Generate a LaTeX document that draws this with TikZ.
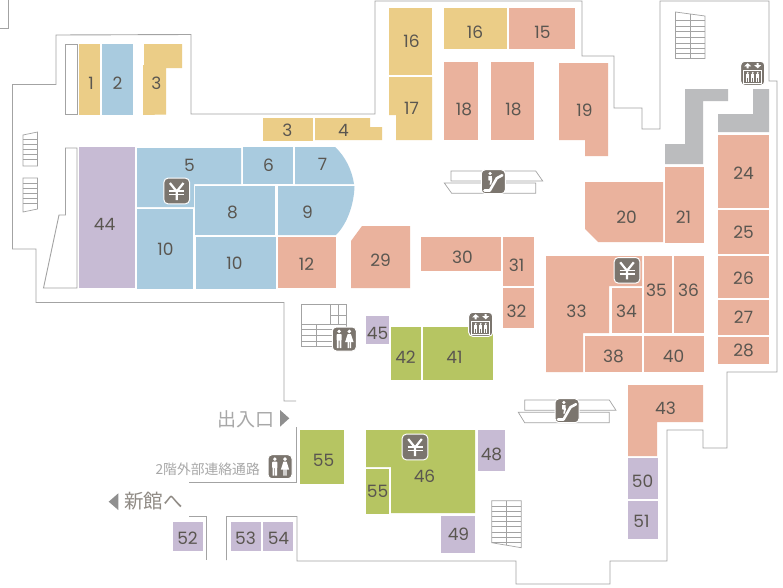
\documentclass[tikz,border=0pt]{standalone}
\usepackage{fontspec}
\setmainfont{Poppins}
\newfontfamily\cjkf{Noto Sans CJK JP}
\definecolor{cy}{HTML}{EBCD87}
\definecolor{cb}{HTML}{A9CBDF}
\definecolor{cp}{HTML}{EAB29D}
\definecolor{cv}{HTML}{C7BBD4}
\definecolor{cg}{HTML}{B6C562}
\definecolor{cw}{HTML}{BBBCBE}
\definecolor{ctxt}{HTML}{5A5650}
\definecolor{wall}{HTML}{A3A3A3}
\definecolor{iconc}{HTML}{7B756E}
\definecolor{lab}{HTML}{A8A8A8}
\definecolor{tri}{HTML}{8F8F8F}
\tikzset{
 ry/.style={fill=cy}, rb/.style={fill=cb}, rp/.style={fill=cp}, rv/.style={fill=cv}, rg/.style={fill=cg}, rw/.style={fill=cw},
 wallline/.style={draw=wall,line width=0.9pt,line join=miter},
 thin line/.style={draw=wall,line width=0.7pt},
 num/.style={text=ctxt,font=\fontsize{17}{17}\selectfont,inner sep=0pt,xshift=0.5pt,yshift=-0.6pt},
 cjklab/.style={text=lab,inner sep=0pt},
 iconbox/.style={fill=iconc,draw=white,line width=1pt,rounded corners=4pt},
 manicon/.pic={
  \fill[white] (0,-7.6) circle (1.9);
  \fill[white,rounded corners=0.8] (-2.6,-5) rectangle (2.6,1.5);
  \fill[white] (-2.2,1) rectangle (-0.4,9) (0.4,1) rectangle (2.2,9);
 },
 womanicon/.pic={
  \fill[white] (0,-7.6) circle (1.9);
  \fill[white] (-1.6,-5) -- (1.6,-5) -- (4.2,3) -- (-4.2,3) -- cycle;
  \fill[white] (-1.7,2.5) rectangle (-0.4,9) (0.4,2.5) rectangle (1.7,9);
 },
 wcicon/.pic={
  \path[iconbox] (-12,-12) rectangle (12,12);
  \pic at (-5.2,0) {manicon};
  \pic at (5,0) {womanicon};
 },
 yenicon/.pic={
  \path[iconbox] (-12.8,-12.8) rectangle (12.8,12.8);
  \draw[white,line width=2.2pt] (-6.8,-8) -- (0,0.5) -- (6.8,-8) (0,0.5) -- (0,9);
  \draw[white,line width=1.4pt] (-7.5,0) -- (7.5,0) (-7.5,3.6) -- (7.5,3.6);
 },
 elevicon/.pic={
  \path[iconbox] (-12,-12) rectangle (12,12);
  \fill[white] (-6,-5) -- (-6,-7) -- (-8.5,-7) -- (-5,-10.2) -- (-1.5,-7) -- (-4,-7) -- (-4,-5) -- cycle;
  \fill[white] (4,-10.2) -- (4,-8.2) -- (1.5,-8.2) -- (5,-5) -- (8.5,-8.2) -- (6,-8.2) -- (6,-10.2) -- cycle;
  \draw[white,line width=1pt] (-8.8,-3.2) rectangle (8.8,9.8);
  \foreach \px in {-5,0,5}{
   \fill[white] (\px,-0.4) circle (1.1);
   \fill[white] (\px-1.5,1) rectangle (\px+1.5,8.3);
   \draw[iconc,line width=0.5pt] (\px,4.5) -- (\px,8.3);
  }
 },
 esciconb/.pic={
  \path[iconbox] (-12,-12) rectangle (12,12);
  \fill[white] (-3.2,-8.2) circle (1.7);
  \fill[white] (-5,-5.5) -- (-1.4,-5.5) -- (-1.2,-1) -- (-2.2,3) -- (-3.8,3) -- (-3,-1) -- (-5,-1.5) -- cycle;
  \draw[white,line width=2.6pt,line join=round,line cap=round] (-9,8.8) -- (-3.5,8.8) -- (3.5,-3.5) -- (9,-6.5);
 }
}
\begin{document}
\begin{tikzpicture}[x=1pt,y=-1pt]
\useasboundingbox (0,0) rectangle (783,587);
\fill[white] (0,0) rectangle (783,587);
% outer walls
\draw[wallline] (0,28) -- (8,28) -- (8,0);
\draw[wallline] (226.5,560) -- (226.5,516.5) -- (297,516.5) -- (297,561) -- (516,561) -- (516,584) -- (610,584) -- (610,561) -- (667,561) -- (667,430) -- (703,430) -- (703,448) -- (727,448) -- (727,372) -- (777,372) -- (777,81) -- (769,81) -- (769,1) -- (660,1) -- (660,129) -- (642,129) -- (642,108) -- (614,108) -- (614,56) -- (582,56) -- (582,1) -- (375,1) -- (375,114) -- (191,114) -- (191,34.5) -- (56,35) -- (56,84.5) -- (12.5,84.5) -- (12.5,249) -- (36,249) -- (36,302.5) -- (284,302.5) -- (284,401) -- (296,401);
\draw[wallline] (189,516.5) -- (206.5,516.5) -- (206.5,560);
\draw[wallline] (189,482.5) -- (296.5,482.5) -- (296.5,427);
\draw[wallline] (65.5,44) rectangle (77,114.5);
\draw[wallline] (65.5,148) -- (77,148) -- (77,288) -- (43.5,288) -- (59,215) -- (65.5,215) -- cycle;
% stairs
\draw[thin line] (23,135) -- (37.5,132) -- (37.5,166) -- (23,166) -- cycle;
\foreach \yy in {139,144,149,154,159}{\draw[thin line] (23,\yy) -- (37.5,\yy);}
\draw[thin line] (23,178) -- (37.5,178) -- (37.5,209) -- (23,212) -- cycle;
\foreach \yy in {183,188,193,198,203}{\draw[thin line] (23,\yy) -- (37.5,\yy);}
\draw[thin line] (675.5,12) -- (705,16) -- (705,58.5) -- (675.5,58.5) -- cycle;
\draw[thin line] (690.7,14) -- (690.7,58.5);
\foreach \yy in {20,26,31,37,43,48,53}{\draw[thin line] (675.5,\yy) -- (705,\yy);}
\draw[thin line] (491.7,500.7) -- (521.3,500.7) -- (521.3,547.7) -- (491.7,542.7) -- cycle;
\draw[thin line] (506.7,500.7) -- (506.7,545);
\foreach \yy in {506,511,516,521,526,532,537,542}{\draw[thin line] (491.7,\yy) -- (521.3,\yy);}
% WC block
\draw[thin line] (301.7,304) rectangle (346.7,346.7);
\draw[thin line] (301.7,324.3) -- (346.7,324.3) (330.7,304) -- (330.7,324.3) (338.7,304) -- (338.7,324.3) (330.7,315) -- (346.7,315);
\draw[thin line] (316.7,324.3) -- (316.7,346.7) (301.7,329.3) -- (332,329.3) (301.7,335.7) -- (332,335.7) (301.7,341) -- (332,341);
% escalators
\draw[thin line] (451,171) -- (535.7,171) -- (542.7,181) -- (451,181) -- cycle;
\draw[thin line] (444.3,183) -- (535.7,183) -- (535.7,193.3) -- (451.7,193.3) -- cycle;
\draw[thin line] (524.7,400) -- (609.3,400) -- (616,410.3) -- (524.7,410.3) -- cycle;
\draw[thin line] (518.3,412.3) -- (609.3,412.3) -- (609.3,422.7) -- (524.7,422.7) -- cycle;
% rooms
\fill[ry] (79,44) rectangle (100,115);
\fill[rb] (102,44) rectangle (133,115);
\fill[ry] (144,44) -- (182,44) -- (182,68) -- (166,68) -- (166,114.5) -- (143,115) -- (143,65) -- (144,65) -- cycle;
\fill[ry] (263,118) rectangle (313,141);
\fill[ry] (315,118) -- (370,118) -- (370,127) -- (382,127) -- (382,140) -- (315,140) -- cycle;
\fill[rv] (79,147) rectangle (135,288);
\fill[rb] (137,148) -- (241,148) -- (241,184) -- (194,184) -- (194,207) -- (137,207) -- cycle;
\fill[rb] (243,147) rectangle (293,184);
\fill[rb] (295,147) -- (335,147) .. controls (345,156) and (352,170) .. (354,184) -- (295,184) -- cycle;
\fill[rb] (195,186) rectangle (275,235);
\fill[rb] (278,186) -- (354.5,186) .. controls (354,205) and (347,224) .. (336,235) -- (278,235) -- cycle;
\fill[rb] (137,209) rectangle (193,289);
\fill[rb] (196,237) rectangle (276,289);
\fill[rp] (278,237) rectangle (336,288);
\fill[rp] (351,241) -- (362,226) -- (410,226) -- (410,288) -- (351,288) -- cycle;
\fill[ry] (389,8) rectangle (432,75);
\fill[ry] (389,77) -- (432,77) -- (432,140) -- (396,140) -- (396,115) -- (389,115) -- cycle;
\fill[ry] (444,8) rectangle (507,49);
\fill[rp] (509,8) rectangle (575,49);
\fill[rp] (444,62) rectangle (478,140);
\fill[rp] (491,62) rectangle (534,140);
\fill[rp] (559,63) -- (608,63) -- (608,156) -- (585,156) -- (585,140) -- (559,140) -- cycle;
\fill[rw] (665,144) -- (685,144) -- (685,89) -- (728,89) -- (728,101) -- (703,101) -- (703,164) -- (665,164) -- cycle;
\fill[rw] (753,89) -- (769,89) -- (769,132) -- (718,132) -- (718,114) -- (753,114) -- cycle;
\fill[rp] (718,135) rectangle (769,208);
\fill[rp] (718,210) rectangle (769,254);
\fill[rp] (718,256) rectangle (769,298);
\fill[rp] (718,300) rectangle (769,335);
\fill[rp] (718,337) rectangle (769,364);
\fill[rp] (665,167) rectangle (704,243);
\fill[rp] (585,182) -- (663,182) -- (663,242) -- (598,242) -- (585,229) -- cycle;
\fill[rp] (421,237) rectangle (501,271);
\fill[rp] (503,237) rectangle (534,286);
\fill[rp] (503,288) rectangle (534,328);
\fill[rp] (546,256) -- (642,256) -- (642,286) -- (609,286) -- (609,333) -- (583,333) -- (583,372) -- (546,372) -- cycle;
\fill[rp] (612,288) rectangle (642,333);
\fill[rp] (644,256) rectangle (672,333);
\fill[rp] (674,256) rectangle (704,333);
\fill[rp] (585,336) rectangle (642,372);
\fill[rp] (644,336) rectangle (704,372);
\fill[rp] (628,385) -- (703,385) -- (703,422) -- (657,422) -- (657,456) -- (628,456) -- cycle;
\fill[rv] (628,458) rectangle (658,499);
\fill[rv] (628,501) rectangle (658,539);
\fill[rv] (478,430) rectangle (505,471);
\fill[rv] (441,516) rectangle (475,553);
\fill[rg] (366,430) -- (475,430) -- (475,513) -- (391,513) -- (391,467) -- (366,467) -- cycle;
\fill[rg] (366,469) rectangle (389,514);
\fill[rg] (300,430) rectangle (344,484);
\fill[rg] (391,327) rectangle (421,380);
\fill[rg] (423,327) rectangle (493,380);
\fill[rv] (366,316) rectangle (389,344);
\fill[rv] (173,522) rectangle (203,551);
\fill[rv] (231,522) rectangle (261,551);
\fill[rv] (263,522) rectangle (293,551);
% numbers
\foreach \nm/\px/\py/\tx in {a/90.5/83/1,b/117/83/2,c/156/83/3,d/287/130/3,e/343/130/4,f/104/224/44,g/189/165/5,h/268/165/6,i/322/164/7,j/232/212/8,k/307/212/9,l/165/249/10,m/234/263/10,n/306/264/12,o/380/260/29,p/462/257/30,q/516/265/31,r/516/311/32,s/576/311/33,t/626/311/34,u/656/290/35,v/688/290/36,w/613/356/38,x/673/356/40,y/665/408/43,z/642/481/50,aa/641/521/51,ab/491/454/48,ac/458/534/49,ad/424/476/46,ae/323/460/55,af/377/491/55,ag/405/357/42,ah/454/357/41,ai/377/333/45,aj/187/538/52,ak/245/538/53,al/278/538/54,am/411/41/16,an/411/108/17,ao/474.5/32/16,ap/542/32/15,aq/463.5/109/18,ar/513/109/18,as/584/110/19,at/626/217/20,au/683/217/21,av/743/173/24,aw/743/232/25,ax/743/278/26,ay/743/317/27,az/743/350/28}
  {\node[num] (n\nm) at (\px,\py) {\tx};}
% icons
\pic at (176.7,191) {yenicon};
\pic at (627,270.3) {yenicon};
\pic at (415,447) {yenicon};
\pic at (752.7,73.3) {elevicon};
\pic at (480.7,324.3) {elevicon};
\pic at (344.3,339) {wcicon};
\pic at (280,466.7) {wcicon};
\pic at (493.3,181.7) {esciconb};
\pic at (567,410.7) {esciconb};
% labels
\node[cjklab,anchor=east,font=\cjkf\fontsize{19}{19}\selectfont] (lexit) at (275,419.5) {出入口};
\fill[tri] (280,410) -- (289.3,418.3) -- (280,426.7) -- cycle;
\node[cjklab,anchor=east,font=\cjkf\fontsize{13.8}{13.8}\selectfont] (lbridge) at (260,469) {2階外部連絡通路};
\node[cjklab,anchor=west,text=iconc!85,font=\cjkf\fontsize{19.5}{19.5}\selectfont] (lnew) at (124,501) {新館へ};
\fill[tri] (118.3,493.3) -- (108.7,501.7) -- (118.3,510) -- cycle;
\end{tikzpicture}
\end{document}
